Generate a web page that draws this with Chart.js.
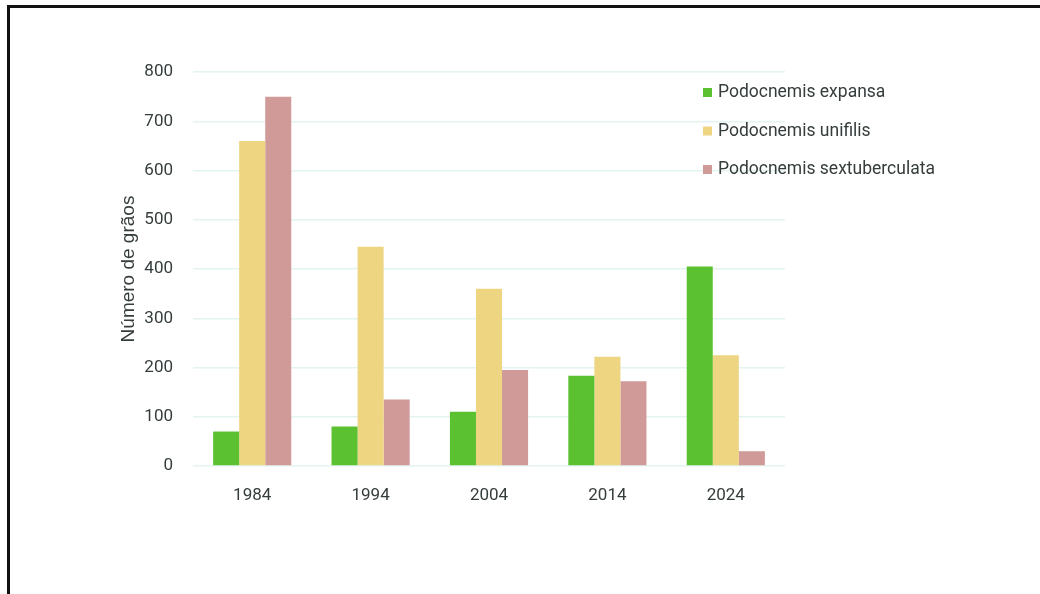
<!DOCTYPE html>
<html>
<head>
<meta charset="utf-8">
<script src="https://cdn.jsdelivr.net/npm/chart.js@4.4.0/dist/chart.umd.min.js"></script>
<style>
  html, body { margin: 0; padding: 0; background: #fff; }
  #wrap { position: relative; width: 1040px; height: 594px; }
  #frame { position: absolute; left: 7px; top: 5px; right: 0; bottom: 0;
           border-top: 3px solid #111; border-left: 3px solid #111; pointer-events: none; }
</style>
</head>
<body>
<div id="wrap">
  <canvas id="graf" width="1040" height="594"></canvas>
  <div id="frame"></div>
</div>
<script>
// dados
var anos = ['1984', '1994', '2004', '2014', '2024'];
var expansa = [70, 80, 110, 183, 405];
var unifilis = [660, 445, 360, 222, 225];
var sextuberculata = [750, 135, 195, 172, 30];
var ticksY = [0, 100, 200, 300, 400, 500, 600, 700, 800];

var corTexto = '#353c3c';

// legenda desenhada a mao, por cima da grade
var legendaPlugin = {
  id: 'legendaLado',
  afterDraw: function(chart) {
    var ctx = chart.ctx;
    ctx.save();
    ctx.font = '17.5px Roboto';
    ctx.textBaseline = 'middle';
    chart.data.datasets.forEach(function(ds, i) {
      var y = 92 + i * 38.5;
      ctx.fillStyle = ds.backgroundColor;
      ctx.fillRect(703, y - 4, 9, 9);
      ctx.fillStyle = corTexto;
      ctx.fillText(ds.label, 718, y + 1);
    });
    ctx.restore();
  }
};

new Chart(document.getElementById('graf'), {
  type: 'bar',
  data: {
    labels: anos,
    datasets: [
      { label: 'Podocnemis expansa', data: expansa, backgroundColor: '#5cc130' },
      { label: 'Podocnemis unifilis', data: unifilis, backgroundColor: '#edd581' },
      { label: 'Podocnemis sextuberculata', data: sextuberculata, backgroundColor: '#d09a98' }
    ]
  },
  options: {
    responsive: false,
    animation: false,
    layout: { padding: { left: 113, right: 255, top: 72, bottom: 88 } },
    datasets: { bar: { categoryPercentage: 0.66, barPercentage: 1 } },
    plugins: { legend: { display: false }, tooltip: { enabled: false } },
    scales: {
      x: {
        grid: { display: false },
        border: { display: false },
        ticks: { color: corTexto, font: { family: 'Roboto', size: 17 }, padding: 12 },
        afterFit: function(s) { s.height = 40; }
      },
      y: {
        min: 0, max: 800,
        afterBuildTicks: function(s) { s.ticks = ticksY.map(function(v) { return { value: v }; }); },
        grid: { color: '#e3f4f1', lineWidth: 1.5, drawTicks: false },
        border: { display: false },
        ticks: { color: corTexto, font: { family: 'Roboto', size: 17 }, padding: 20 },
        title: { display: true, text: 'Número de grãos', color: corTexto,
                 font: { family: 'Liberation Sans', size: 19 }, padding: { top: 4, bottom: 0 } },
        afterFit: function(s) { s.width = 193 - 113; }
      }
    }
  },
  plugins: [legendaPlugin]
});
</script>
</body>
</html>
